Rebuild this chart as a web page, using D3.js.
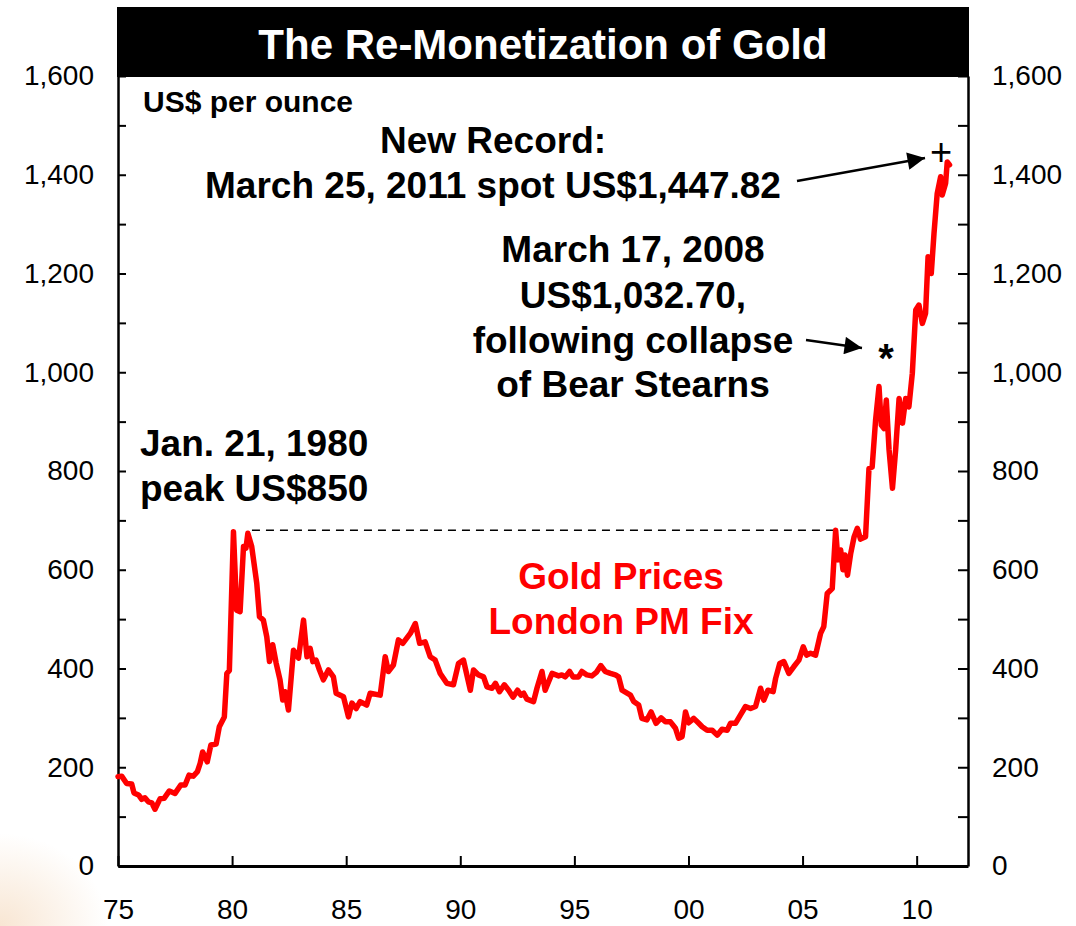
<!DOCTYPE html>
<html>
<head>
<meta charset="utf-8">
<script src="https://cdn.jsdelivr.net/npm/d3@7"></script>
<style>
  body { margin: 0; background: #fff; }
  svg { display: block; font-family: "Liberation Sans", Arial, sans-serif; }
</style>
</head>
<body>
<div id="chart"></div>
<script>
// gold price, London PM fix, US$ per ounce
var years = [1975.00, 1975.16, 1975.38, 1975.60, 1975.70, 1975.90, 1976.04, 1976.18, 1976.33, 1976.48,
  1976.62, 1976.84, 1977.02, 1977.25, 1977.50, 1977.75, 1977.94, 1978.11, 1978.30, 1978.48,
  1978.60, 1978.71, 1978.91, 1979.07, 1979.30, 1979.44, 1979.66, 1979.77, 1979.88, 1980.06,
  1980.20, 1980.35, 1980.50, 1980.61, 1980.69, 1980.86, 1981.08, 1981.20, 1981.37, 1981.52,
  1981.64, 1981.78, 1981.93, 1982.10, 1982.22, 1982.32, 1982.47, 1982.69, 1982.91, 1983.13,
  1983.28, 1983.42, 1983.54, 1983.68, 1983.83, 1984.00, 1984.22, 1984.44, 1984.56, 1984.88,
  1985.10, 1985.25, 1985.44, 1985.61, 1985.90, 1986.05, 1986.49, 1986.71, 1986.85, 1987.07,
  1987.29, 1987.48, 1987.81, 1988.03, 1988.22, 1988.46, 1988.68, 1988.90, 1989.12, 1989.41,
  1989.70, 1989.92, 1990.14, 1990.44, 1990.58, 1990.80, 1991.02, 1991.17, 1991.39, 1991.54,
  1991.72, 1991.93, 1992.12, 1992.31, 1992.51, 1992.66, 1992.78, 1992.92, 1993.21, 1993.36,
  1993.58, 1993.72, 1993.87, 1994.02, 1994.31, 1994.45, 1994.60, 1994.79, 1994.94, 1995.18,
  1995.33, 1995.55, 1995.77, 1995.96, 1996.16, 1996.35, 1996.58, 1996.80, 1996.94, 1997.09,
  1997.31, 1997.46, 1997.60, 1997.82, 1997.96, 1998.18, 1998.36, 1998.58, 1998.80, 1998.99,
  1999.21, 1999.43, 1999.57, 1999.72, 1999.87, 2000.01, 2000.23, 2000.45, 2000.60, 2000.82,
  2001.04, 2001.26, 2001.47, 2001.70, 2001.84, 2002.06, 2002.28, 2002.50, 2002.72, 2002.94,
  2003.16, 2003.30, 2003.48, 2003.71, 2003.82, 2004.00, 2004.18, 2004.40, 2004.62, 2004.84,
  2005.03, 2005.18, 2005.35, 2005.57, 2005.79, 2005.93, 2006.08, 2006.30, 2006.45, 2006.55,
  2006.67, 2006.77, 2006.86, 2006.97, 2007.11, 2007.26, 2007.40, 2007.54, 2007.76, 2007.91,
  2008.05, 2008.20, 2008.35, 2008.45, 2008.57, 2008.67, 2008.79, 2008.94, 2009.08, 2009.23,
  2009.38, 2009.52, 2009.66, 2009.81, 2009.96, 2010.10, 2010.25, 2010.39, 2010.50, 2010.64,
  2010.76, 2010.90, 2011.05, 2011.12, 2011.27, 2011.34, 2011.44];

var prices = [181, 182, 167, 166, 148, 144, 135, 138, 130, 128,
  115, 136, 137, 152, 147, 164, 164, 184, 182, 191,
  208, 231, 211, 245, 247, 282, 302, 390, 396, 677,
  518, 515, 647, 644, 674, 647, 573, 505, 498, 464,
  414, 448, 411, 377, 336, 353, 316, 437, 421, 498,
  424, 441, 414, 417, 397, 377, 397, 383, 350, 343,
  302, 330, 319, 333, 326, 350, 346, 424, 394, 407,
  458, 451, 471, 491, 451, 454, 424, 417, 390, 370,
  367, 410, 417, 356, 397, 387, 383, 363, 360, 370,
  353, 367, 356, 342, 356, 346, 350, 338, 333, 360,
  394, 356, 373, 390, 385, 387, 383, 394, 383, 383,
  394, 387, 385, 392, 406, 394, 390, 387, 383, 356,
  350, 346, 333, 326, 299, 296, 312, 289, 300, 292,
  292, 279, 259, 262, 312, 290, 299, 289, 282, 275,
  275, 265, 277, 275, 289, 289, 306, 323, 319, 323,
  360, 336, 356, 353, 380, 410, 414, 390, 404, 417,
  444, 427, 431, 427, 471, 485, 552, 562, 680, 620,
  640, 600, 630, 589, 633, 667, 684, 662, 667, 805,
  808, 903, 971, 893, 886, 944, 843, 765, 843, 947,
  897, 947, 930, 998, 1126, 1136, 1099, 1119, 1234, 1200,
  1281, 1362, 1396, 1359, 1383, 1426, 1420];

var yTickValues = d3.range(0, 1700, 100);
var xTickValues = [1975, 1980, 1985, 1990, 1995, 2000, 2005, 2010];
var xTickLabels = ["75", "80", "85", "90", "95", "00", "05", "10"];

// 1980 peak level carried across as the dashed reference line
var peakLine = { from: 1980.87, to: 2007.54, value: 680 };

var svgWidth = 1076;
var svgHeight = 926;
var margin = { top: 76, right: 108, bottom: 60, left: 118 };
var width = svgWidth - margin.left - margin.right;
var height = svgHeight - margin.top - margin.bottom;

var svg = d3.select("#chart")
  .append("svg")
  .attr("width", svgWidth)
  .attr("height", svgHeight);

// faint slide background in the lower-left corner
var defs = svg.append("defs");
var grad = defs.append("radialGradient")
  .attr("id", "corner")
  .attr("cx", 0).attr("cy", 1).attr("r", 0.1);
grad.append("stop").attr("offset", "0%").attr("stop-color", "#f8e6d3");
grad.append("stop").attr("offset", "100%").attr("stop-color", "#ffffff");
svg.append("rect")
  .attr("width", svgWidth).attr("height", svgHeight)
  .attr("fill", "url(#corner)");

defs.append("marker")
  .attr("id", "arrow")
  .attr("viewBox", "0 0 10 10")
  .attr("refX", 10).attr("refY", 5)
  .attr("markerWidth", 9).attr("markerHeight", 7)
  .attr("markerUnits", "strokeWidth")
  .attr("orient", "auto")
  .append("path")
  .attr("d", "M0,0 L10,5 L0,10 z")
  .attr("fill", "#000");

var chartGroup = svg.append("g")
  .attr("transform", `translate(${margin.left}, ${margin.top})`);

// scales
var xScale = d3.scaleLinear()
  .domain([1975, 2012.25])
  .range([0, width]);

var yScale = d3.scaleLinear()
  .domain([0, 1600])
  .range([height, 0]);

var yFmt = function(d) { return d % 200 === 0 ? d3.format(",")(d) : ""; };

// axes
var leftAxis = d3.axisLeft(yScale)
  .tickValues(yTickValues)
  .tickFormat(yFmt)
  .tickSizeInner(-8)
  .tickSizeOuter(0)
  .tickPadding(24);

var rightAxis = d3.axisRight(yScale)
  .tickValues(yTickValues)
  .tickFormat(yFmt)
  .tickSizeInner(-10)
  .tickSizeOuter(0)
  .tickPadding(24);

var bottomAxis = d3.axisBottom(xScale)
  .tickValues(xTickValues)
  .tickFormat(function(d, i) { return xTickLabels[i]; })
  .tickSizeInner(-10)
  .tickSizeOuter(0)
  .tickPadding(33);

function styleAxis(g, w) {
  g.select(".domain").attr("stroke", "#000").attr("stroke-width", w);
  g.selectAll(".tick line").attr("stroke", "#000").attr("stroke-width", 2);
  g.selectAll(".tick text")
    .attr("fill", "#000")
    .style("font-size", "28px")
    .style("font-family", "'Liberation Sans', Arial, sans-serif");
}

chartGroup.append("g").call(leftAxis).call(styleAxis, 2.5);
chartGroup.append("g")
  .attr("transform", `translate(${width}, 0)`)
  .call(rightAxis).call(styleAxis, 2.5);
chartGroup.append("g")
  .attr("transform", `translate(0, ${height})`)
  .call(bottomAxis).call(styleAxis, 3);

// title bar
svg.append("rect")
  .attr("x", margin.left - 1).attr("y", 7)
  .attr("width", width + 2).attr("height", margin.top - 6)
  .attr("fill", "#000");
svg.append("text")
  .attr("x", margin.left + width / 2)
  .attr("y", 59)
  .attr("text-anchor", "middle")
  .attr("fill", "#fff")
  .style("font-weight", "bold")
  .style("font-size", "42px")
  .text("The Re-Monetization of Gold");

// dashed line at the 1980 peak level
chartGroup.append("line")
  .attr("x1", xScale(peakLine.from))
  .attr("x2", xScale(peakLine.to))
  .attr("y1", yScale(peakLine.value))
  .attr("y2", yScale(peakLine.value))
  .attr("stroke", "#000")
  .attr("stroke-width", 1.5)
  .attr("stroke-dasharray", "8,6");

// price line
var line = d3.line()
  .x(function(d, i) { return xScale(years[i]); })
  .y(function(d) { return yScale(d); });

chartGroup.append("path")
  .datum(prices)
  .attr("d", line)
  .attr("fill", "none")
  .attr("stroke", "#ff0000")
  .attr("stroke-width", 5.5)
  .attr("stroke-linejoin", "round")
  .attr("stroke-linecap", "round");

// labels and notes
function addText(x, y, str, size, anchor, color) {
  return svg.append("text")
    .attr("x", x).attr("y", y)
    .attr("text-anchor", anchor || "start")
    .attr("fill", color || "#000")
    .style("font-weight", "bold")
    .style("font-size", size + "px")
    .text(str);
}

addText(143, 112, "US$ per ounce", 30);

addText(493, 153, "New Record:", 37, "middle");
addText(493, 198, "March 25, 2011 spot US$1,447.82", 37, "middle");

addText(633, 262, "March 17, 2008", 37, "middle");
addText(633, 308, "US$1,032.70,", 37, "middle");
addText(633, 353, "following collapse", 37, "middle");
addText(633, 397, "of Bear Stearns", 37, "middle");

addText(140, 456, "Jan. 21, 1980", 37);
addText(140, 501, "peak US$850", 37);

addText(621, 589, "Gold Prices", 37, "middle", "#ff0000");
addText(621, 634, "London PM Fix", 37, "middle", "#ff0000");

// arrows and markers
svg.append("line")
  .attr("x1", 797).attr("y1", 181).attr("x2", 925).attr("y2", 158)
  .attr("stroke", "#000").attr("stroke-width", 2.5)
  .attr("marker-end", "url(#arrow)");
svg.append("text")
  .attr("x", 941).attr("y", 165)
  .attr("text-anchor", "middle")
  .style("font-size", "38px")
  .text("+");

svg.append("line")
  .attr("x1", 806).attr("y1", 340).attr("x2", 862).attr("y2", 348)
  .attr("stroke", "#000").attr("stroke-width", 2.5)
  .attr("marker-end", "url(#arrow)");
svg.append("text")
  .attr("x", 886).attr("y", 372)
  .attr("text-anchor", "middle")
  .style("font-weight", "bold")
  .style("font-size", "40px")
  .text("*");
</script>
</body>
</html>
